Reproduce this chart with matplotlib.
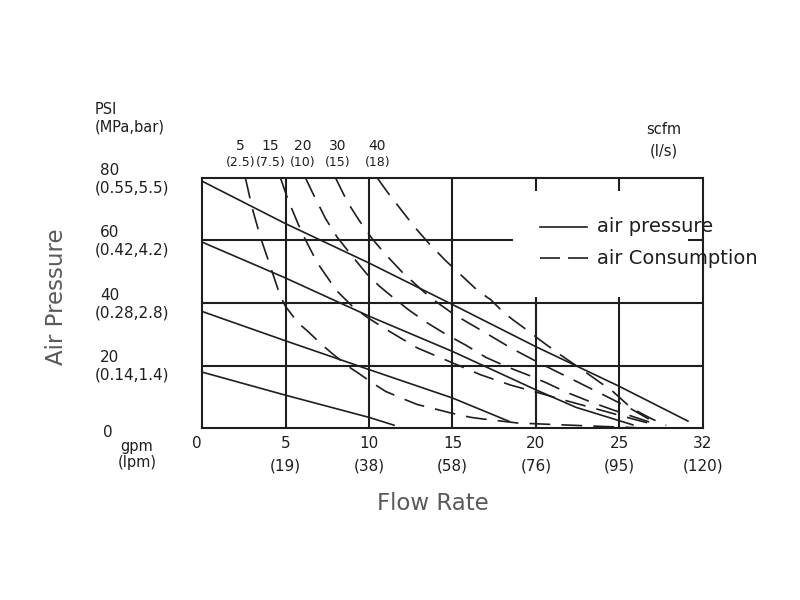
import matplotlib
matplotlib.use('Agg')
import matplotlib.pyplot as plt
from matplotlib.patches import Rectangle
from matplotlib.lines import Line2D

plt.rcParams['font.family'] = ['DejaVu Sans']
plt.rcParams['lines.scale_dashes'] = False

INK = '#1e1e1e'
GREY = '#5a5a5a'

# ── axis ticks (drawn as text, two unit systems) ─────────
flow_pos = [0, 5, 10, 15, 20, 25, 30]
flow_gpm = ['0', '5', '10', '15', '20', '25', '32']
flow_lpm = ['', '(19)', '(38)', '(58)', '(76)', '(95)', '(120)']

psi_pos = [0, 20, 40, 60, 80]
psi_txt = ['0', '20', '40', '60', '80']
psi_si = ['', '(0.14,1.4)', '(0.28,2.8)', '(0.42,4.2)', '(0.55,5.5)']

# ── air pressure curves (solid) ───────────────────────────
p80_x = [0, 5, 10, 15, 20, 25, 29.1]
p80_y = [79, 65.4, 52.8, 39.5, 26, 13.3, 2.2]
p60_x = [0, 5, 10, 15, 20, 22.4, 25.8]
p60_y = [59.5, 48, 35.8, 24.5, 12.2, 6.6, 1.0]
p40_x = [0, 5, 10, 15, 18.4]
p40_y = [37.3, 27.9, 18.7, 9.6, 2.1]
p20_x = [0, 5, 10, 11.5]
p20_y = [17.9, 10.5, 3.4, 0.9]

# ── air consumption curves (dashed) ──────────────────────
c5_x = [2.6, 3.0, 3.5, 4.0, 4.67, 5.0, 5.76, 6.26, 7.26, 7.76, 8.75, 9.35, 10.35,
        11.0, 12.2, 12.9, 14.1, 14.9, 16.1, 16.8, 18.1, 18.9, 20.2, 23.0, 26.0]
c5_y = [80, 70.5, 61, 53.2, 42.5, 38.9, 33.6, 31.3, 26.3, 24.0, 19.7, 17.6, 13.9,
        11.7, 9.0, 7.5, 5.9, 4.8, 3.4, 2.9, 2.1, 1.6, 1.3, 0.7, 0.1]
c15_x = [4.7, 5.16, 5.96, 6.9, 8.05, 9.05, 9.95, 11.2, 12.9, 14.8, 16.7, 18.5,
         20.2, 21.5, 23.0, 24.5, 26.0, 27.3]
c15_y = [80, 72.9, 62.7, 52.9, 44, 38.7, 35.2, 31, 25.6, 21.3, 17, 13.7,
         11.2, 9.2, 7.0, 4.8, 2.6, 0.8]
c20_x = [6.2, 6.6, 7.4, 8.1, 8.95, 9.85, 10.6, 11.5, 12.4, 13.5, 14.6, 15.8,
         17.0, 18.3, 19.6, 20.6, 21.8, 23.2, 24.6, 26.0, 27.2]
c20_y = [80, 75.5, 67, 61, 55.3, 49.4, 45.5, 41.5, 37.7, 33.6, 30, 26.5,
         22.6, 19.5, 16.8, 14.5, 11.5, 8.5, 5.8, 3.3, 1.2]
c30_x = [8.0, 8.7, 9.4, 10.2, 11.0, 12.0, 13.3, 14.0, 15.1, 16.8, 18.5, 20.2,
         22.2, 24.0, 25.6, 27.2]
c30_y = [80, 72.4, 66.5, 60.5, 55.5, 49.8, 43.5, 40.5, 36.3, 31, 25.6, 20.8,
         15.5, 10.7, 6.4, 1.5]
c40_x = [10.5, 11.1, 11.9, 12.7, 13.6, 14.6, 15.5, 16.5, 17.3, 18.0, 18.6, 19.7,
         20.2, 21.3, 22.8, 24.6, 25.7, 26.9, 27.8]
c40_y = [80, 75.5, 70, 64.5, 59, 53.5, 49, 44, 41, 37.3, 34.7, 30.4,
         28.3, 24, 18.5, 11.7, 6.4, 3.0, 0.8]

scfm_txt = ['5', '15', '20', '30', '40']
ls_txt = ['(2.5)', '(7.5)', '(10)', '(15)', '(18)']
scfm_pos = [2.3, 4.1, 6.05, 8.1, 10.5]

# ─────────────────────────────────────────────
fig = plt.figure(figsize=(8, 6), dpi=100)
ax = fig.add_axes([202 / 800, 1 - 428 / 600, 501 / 800, 250 / 600])
ax.set_xlim(0, 30)
ax.set_ylim(0, 80)
ax.set_xticks([])
ax.set_yticks([])
for sp in ax.spines.values():
    sp.set_linewidth(1.5)
    sp.set_color(INK)
    sp.set_zorder(5)

for x in flow_pos[1:-1]:
    ax.axvline(x, color=INK, lw=1.5, zorder=1)
for y in psi_pos[1:-1]:
    ax.axhline(y, color=INK, lw=1.5, zorder=1)

for xs, ys in [(p80_x, p80_y), (p60_x, p60_y), (p40_x, p40_y), (p20_x, p20_y)]:
    ax.plot(xs, ys, color=INK, lw=1.2, zorder=3)

for xs, ys in [(c5_x, c5_y), (c15_x, c15_y), (c20_x, c20_y),
               (c30_x, c30_y), (c40_x, c40_y)]:
    ax.plot(xs, ys, color=INK, lw=1.2, dashes=(15, 8), zorder=3)

# legend (white box over the grid)
ax.add_patch(Rectangle((0.621, 0.524), 0.349, 0.425, transform=ax.transAxes,
                       facecolor='white', edgecolor='none', zorder=2))
ax.add_line(Line2D([0.675, 0.768], [0.805, 0.805], transform=ax.transAxes,
                   color=INK, lw=1.2, zorder=4))
ax.add_line(Line2D([0.675, 0.770], [0.679, 0.679], transform=ax.transAxes,
                   color=INK, lw=1.2, dashes=(14.4, 5.8), zorder=4))
ax.text(0.788, 0.805, 'air pressure', transform=ax.transAxes, fontsize=14,
        ha='left', va='center', color=INK, zorder=6, clip_on=False)
ax.text(0.788, 0.679, 'air Consumption', transform=ax.transAxes, fontsize=14,
        ha='left', va='center', color=INK, zorder=6, clip_on=False)

# y tick labels
ytr = ax.get_yaxis_transform()
for y, t, s in zip(psi_pos, psi_txt, psi_si):
    if y == 0:
        ax.annotate(t, xy=(0, y), xycoords=ytr, xytext=(-68, -3),
                    textcoords='offset points', ha='center', va='center',
                    fontsize=11, color=INK)
        continue
    ax.annotate(t, xy=(0, y), xycoords=ytr, xytext=(-73.4, 5.6),
                textcoords='offset points', ha='left', va='center',
                fontsize=11, color=INK)
    ax.annotate(s, xy=(0, y), xycoords=ytr, xytext=(-77, -7),
                textcoords='offset points', ha='left', va='center',
                fontsize=11, color=INK)

# x tick labels
xtr = ax.get_xaxis_transform()
for x, g, l in zip(flow_pos, flow_gpm, flow_lpm):
    dx = -3.6 if x == 0 else 0
    ax.annotate(g, xy=(x, 0), xycoords=xtr, xytext=(dx, -11.5),
                textcoords='offset points', ha='center', va='center',
                fontsize=11, color=INK)
    if l:
        ax.annotate(l, xy=(x, 0), xycoords=xtr, xytext=(0, -27.4),
                    textcoords='offset points', ha='center', va='center',
                    fontsize=11, color=INK)

# scfm labels on top
for x, t, s in zip(scfm_pos, scfm_txt, ls_txt):
    ax.annotate(t, xy=(x, 1), xycoords=xtr, xytext=(0, 23),
                textcoords='offset points', ha='center', va='center',
                fontsize=10, color=INK)
    ax.annotate(s, xy=(x, 1), xycoords=xtr, xytext=(0, 11),
                textcoords='offset points', ha='center', va='center',
                fontsize=9, color=INK)

fig.text(95 / 800, 1 - 110 / 600, 'PSI', fontsize=10.5, ha='left', va='center', color=INK)
fig.text(95 / 800, 1 - 127 / 600, '(MPa,bar)', fontsize=10.5, ha='left', va='center', color=INK)
fig.text(137 / 800, 1 - 446 / 600, 'gpm', fontsize=10.5, ha='center', va='center', color=INK)
fig.text(137 / 800, 1 - 463 / 600, '(lpm)', fontsize=10.5, ha='center', va='center', color=INK)
fig.text(664 / 800, 1 - 129 / 600, 'scfm', fontsize=10.5, ha='center', va='center', color=INK)
fig.text(664 / 800, 1 - 151 / 600, '(l/s)', fontsize=10.5, ha='center', va='center', color=INK)

fig.text(57 / 800, 1 - 297 / 600, 'Air Pressure', fontsize=16.5, rotation=90,
         ha='center', va='center', color=GREY)
fig.text(433 / 800, 1 - 504 / 600, 'Flow Rate', fontsize=16.5,
         ha='center', va='center', color=GREY)

fig.savefig('out.png', dpi=100, facecolor='white')
